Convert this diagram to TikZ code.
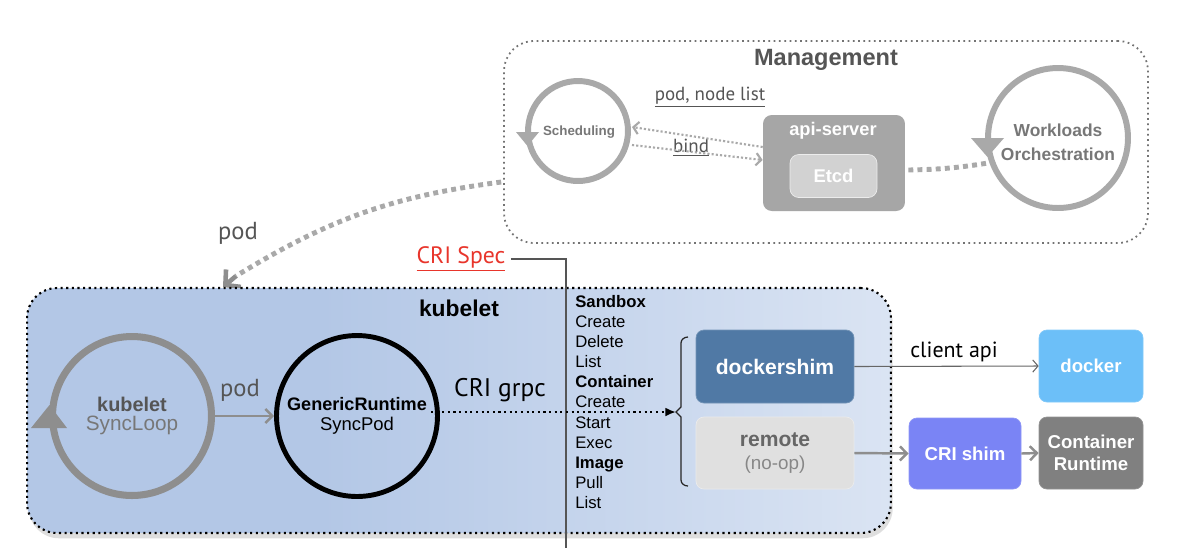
\documentclass[tikz,border=0pt]{standalone}
\usepackage{fontspec}
\setmainfont{Liberation Sans}
\newfontfamily\pts{PT Sans}
\usetikzlibrary{arrows.meta,calc,shadows,positioning}
\definecolor{kubA}{HTML}{B3C7E6}
\definecolor{kubB}{HTML}{F8FAFD}
\definecolor{ringgray}{HTML}{A9A9A9}
\definecolor{loopgray}{HTML}{8E8E8E}
\definecolor{dkgray}{HTML}{555555}
\definecolor{midgray}{HTML}{777777}
\definecolor{apigray}{HTML}{A6A6A6}
\definecolor{etcdgray}{HTML}{D2D2D2}
\definecolor{dshim}{HTML}{5079A5}
\definecolor{remgray}{HTML}{E0E0E0}
\definecolor{dockblue}{HTML}{6CBFF8}
\definecolor{crishim}{HTML}{7A84F5}
\definecolor{crgray}{HTML}{808080}
\definecolor{crired}{HTML}{E8352B}
\pgfdeclarehorizontalshading{kubshade}{100bp}{color(0bp)=(kubA); color(42bp)=(kubA); color(100bp)=(kubB)}
\tikzset{
  x=0.02cm, y=-0.02cm,
  ring/.style={circle, draw=ringgray, line width=3.4pt, inner sep=0pt},
  boxnode/.style={rounded corners=4.5pt, inner sep=0pt, align=center, font=\bfseries\fontsize{10.6}{12.3}\selectfont, text=white},
  listitem/.style={anchor=base west, inner sep=0pt, font=\fontsize{9.5}{11.4}\selectfont},
  listhead/.style={listitem, font=\bfseries\fontsize{9.5}{11.4}\selectfont},
  thickdot/.style={draw=ringgray, line width=2.8pt, dash pattern=on 2.8pt off 2.4pt},
  grayarrow/.style={draw=loopgray, line width=1.4pt, -{Straight Barb[length=4pt,width=8pt]}},
  pt/.style={inner sep=0pt, text=dkgray},
}
\begin{document}
\begin{tikzpicture}
\useasboundingbox (0,0) rectangle (1200,556);

% ---------------- Management ----------------
\node[draw=black!55, line width=1pt, dotted, rounded corners=17pt, fill=white,
      minimum width=12.88cm, minimum height=4.04cm] (mgmt) at (826,142) {};
\node[font=\bfseries\fontsize{13.4}{16}\selectfont, text=dkgray] (mgmttitle) at (826,60) {Management};

\node[ring, minimum size=2.0cm] (sched) at (578,131) {};
\node[font=\bfseries\fontsize{7.6}{9}\selectfont, text=midgray] (schedtxt) at (579,132) {Scheduling};
\fill[ringgray] (516,132) -- (539,132) -- (527.5,146) -- cycle;

\node[ring, minimum size=2.8cm] (work) at (1058,138) {};
\node[font=\bfseries\fontsize{9.9}{13.6}\selectfont, text=midgray, align=center] (worktxt) at (1058,142) {Workloads\\Orchestration};
\fill[ringgray] (971,138) -- (1004,138) -- (987.5,157) -- cycle;

\node[rounded corners=5pt, fill=apigray, minimum width=2.84cm, minimum height=1.92cm, inner sep=0pt] (api) at (834,163) {};
\node[font=\bfseries\fontsize{10.4}{12}\selectfont, text=white] (apitxt) at (833,131) {api-server};
\node[rounded corners=5pt, fill=etcdgray, draw=white!85!gray, minimum width=1.74cm, minimum height=0.86cm, inner sep=0pt,
      font=\bfseries\fontsize{10.5}{12}\selectfont, text=white] (etcd) at (833.5,176) {Etcd};

\node[pt, font=\pts\fontsize{10.8}{13}\selectfont] (podnode) at (710,97) {\underline{pod, node list}};
\node[pt, font=\pts\fontsize{10.8}{13}\selectfont] (bind) at (691,148) {\underline{bind}};

\draw[draw=ringgray, line width=1.2pt, dash pattern=on 1.2pt off 1.2pt, -{Straight Barb[length=3pt,width=7pt]}]
  ($(api.west)+(0,-16)$) -- ($(sched.center)+(54,-4)$);
\draw[draw=ringgray, line width=1.2pt, dash pattern=on 1.2pt off 1.2pt, -{Straight Barb[length=3pt,width=7pt]}]
  ($(sched.center)+(54,14)$) -- ($(api.west)+(0,-3)$);

\draw[thickdot] ($(api.east)+(3,7)$) to[bend right=4] ($(work.center)+(-70,25)$);

% ---------------- pod arrow ----------------
\coordinate (podtip) at (223,287);
\coordinate (podbase) at (236,276);
\draw[thickdot] ($(mgmt.west)+(-2,40)$) to[bend right=12] (podbase);
\draw[draw=loopgray, line width=2.6pt, -{Straight Barb[length=6pt,width=13pt]}] (podbase) -- (podtip);
\node[pt, font=\pts\fontsize{14}{16}\selectfont] (podtop) at (238,233) {pod};

% ---------------- kubelet box ----------------
\node[draw=black, line width=1.2pt, dotted, rounded corners=17pt, shading=kubshade,
      drop shadow={shadow xshift=1pt, shadow yshift=-3pt, opacity=0.13, fill=black},
      minimum width=17.28cm, minimum height=4.9cm, inner sep=0pt] (kub) at (459,410.5) {};
\node[font=\bfseries\fontsize{13}{15}\selectfont] (kubtitle) at (459,308) {kubelet};

% CRI spec line
\node[inner sep=0pt, text=crired, font=\pts\fontsize{13.5}{16}\selectfont] (crispec) at (461,259) {\underline{CRI Spec}};
\coordinate (crilineend) at (566,548);
\draw[draw=dkgray, line width=0.6pt] ($(crispec.east)+(5,0)$) -| (crilineend);

% SyncLoop
\node[circle, draw=loopgray, line width=4pt, inner sep=0pt, minimum size=3.18cm, align=center] (sl) at (132,416)
  {\bfseries\fontsize{11.3}{14}\selectfont\textcolor{dkgray}{kubelet}\\[-1pt]\fontsize{11.8}{14}\selectfont\textcolor{midgray}{SyncLoop}};
\fill[loopgray] (31,428) -- (67,428) -- (49.5,405) -- cycle;

% GenericRuntime
\node[circle, draw=black, line width=2.8pt, inner sep=0pt, minimum size=3.22cm, align=center] (gr) at (357,416)
  {\bfseries\fontsize{10.3}{12}\selectfont GenericRuntime\\[-1pt]\fontsize{10.5}{12}\selectfont SyncPod};

\draw[grayarrow] (sl.east) -- (gr.west);
\node[pt, font=\pts\fontsize{14}{16}\selectfont] (podmid) at (240,390) {pod};

\node[inner sep=0pt, font=\pts\fontsize{14.5}{16}\selectfont] (crigrpc) at (500,390) {CRI grpc};

% list
\node[listhead] (l1) at (575,307) {Sandbox};
\node[listitem] (l2) at (575,327) {Create};
\node[listitem] (l3) at (575,347) {Delete};
\node[listitem] (l4) at (575,367) {List};
\node[listhead] (l5) at (575,387) {Container};
\node[listitem] (l6) at (575,407.5) {Create};
\node[listitem] (l7) at (575,428) {Start};
\node[listitem] (l8) at (575,448) {Exec};
\node[listhead] (l9) at (575,468) {Image};
\node[listitem] (l10) at (575,488) {Pull};
\node[listitem] (l11) at (575,508) {List};

% bracket
\coordinate (brk) at (676,412);
\draw[line width=0.7pt, draw=black!85] (688,337) to[out=180,in=90] (681,343) -- (681,407) -- (brk) -- (681,417) -- (681,480) to[out=-90,in=180] (688,486);
\draw[line width=1.2pt, dotted, -{Latex[length=6pt,width=5pt]}] ($(gr.center)+(74,-4)$) -- (brk);

% boxes
\node[boxnode, fill=dshim, draw=dshim!80!white, minimum width=3.16cm, minimum height=1.46cm,
      font=\bfseries\fontsize{12}{14}\selectfont] (dsh) at (775,366.5) {dockershim};
\node[boxnode, fill=remgray, draw=black!8, minimum width=3.16cm, minimum height=1.44cm, text=black!60] (rem) at (775,453)
  {\fontsize{12}{14}\selectfont remote\\[1pt]\normalfont\fontsize{10.7}{13}\selectfont\textcolor{black!47}{(no-op)}};
\node[boxnode, fill=dockblue, draw=dockblue!85!white, minimum width=2.08cm, minimum height=1.44cm] (dock) at (1091,366) {docker};
\node[boxnode, fill=crishim, draw=crishim!85!white, minimum width=2.24cm, minimum height=1.42cm] (cris) at (965,453.5) {CRI shim};
\node[boxnode, fill=crgray, draw=crgray!85!white, minimum width=2.08cm, minimum height=1.44cm] (cr) at (1091,453) {Container\\Runtime};

\draw[draw=black!60, line width=0.6pt, -{Straight Barb[length=3pt,width=7pt]}] (dsh.east) -- (dock.west);
\node[inner sep=0pt, font=\pts\fontsize{12.5}{15}\selectfont] (clientapi) at (954,352) {client api};
\draw[grayarrow] (rem.east) -- (cris.west);
\draw[grayarrow] (cris.east) -- (cr.west);
\end{tikzpicture}
\end{document}
